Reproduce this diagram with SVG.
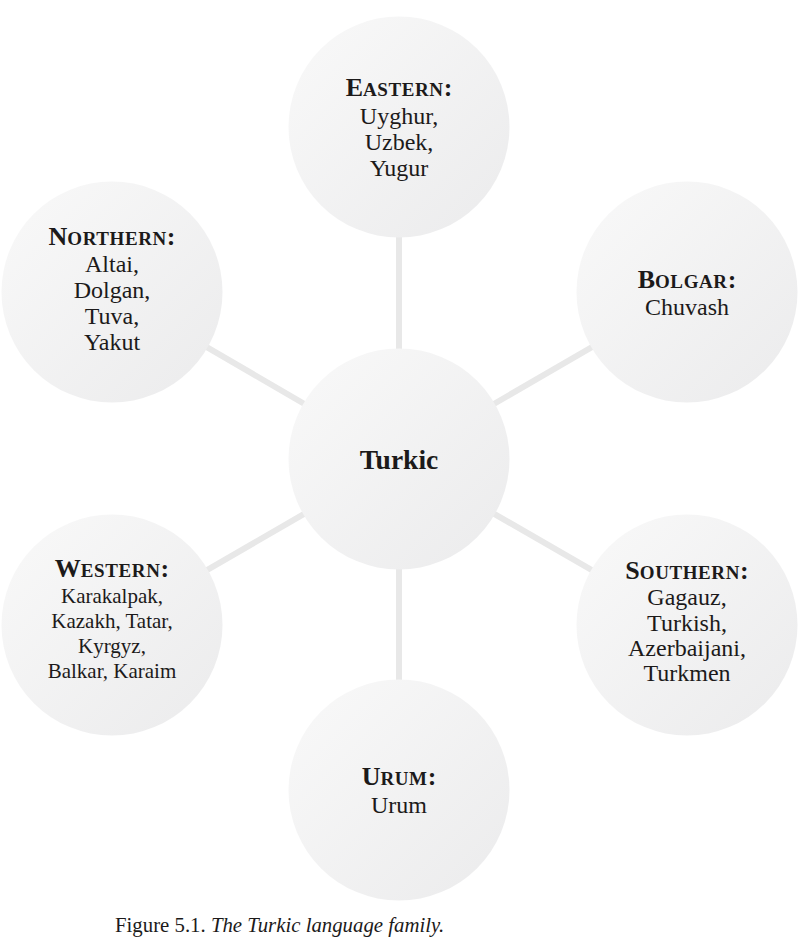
<svg xmlns="http://www.w3.org/2000/svg" width="806" height="946" viewBox="0 0 806 946">
<style>
text{font-family:"Liberation Serif","Times New Roman",serif;fill:#1c1a1a;text-anchor:middle}
.h{font-weight:bold;font-size:26px}
.sc{font-size:19px;letter-spacing:0.6px}
.b{font-size:24px}
.bw{font-size:21px}
.node circle{fill:url(#g)}
.conn line{stroke:#e8e8e8;stroke-width:6}
.cap{text-anchor:start;font-size:20.8px}
</style>
<defs>
<linearGradient id="g" x1="0" y1="0" x2="1" y2="1">
<stop offset="0" stop-color="#f9f9f9"/>
<stop offset="1" stop-color="#ebebec"/>
</linearGradient>
</defs>
<rect width="806" height="946" fill="#ffffff"/>
<g id="connectors" class="conn">
<line x1="399" y1="459" x2="399" y2="127"/>
<line x1="399" y1="459" x2="687" y2="292"/>
<line x1="399" y1="459" x2="687" y2="625"/>
<line x1="399" y1="459" x2="399" y2="790"/>
<line x1="399" y1="459" x2="112" y2="625"/>
<line x1="399" y1="459" x2="112" y2="292"/>
</g>
<g id="eastern" class="node">
<circle cx="399" cy="127" r="110.5"/>
<text class="h" x="399" y="96">E<tspan class="sc">ASTERN</tspan>:</text>
<text class="b" x="399" y="124">Uyghur,</text>
<text class="b" x="399" y="150">Uzbek,</text>
<text class="b" x="399" y="176">Yugur</text>
</g>
<g id="bolgar" class="node">
<circle cx="687" cy="292" r="110.5"/>
<text class="h" x="687" y="288">B<tspan class="sc">OLGAR</tspan>:</text>
<text class="b" x="687" y="315">Chuvash</text>
</g>
<g id="southern" class="node">
<circle cx="687" cy="625" r="110.5"/>
<text class="h" x="687" y="579">S<tspan class="sc">OUTHERN</tspan>:</text>
<text class="b" x="687" y="605">Gagauz,</text>
<text class="b" x="687" y="631">Turkish,</text>
<text class="b" x="687" y="656">Azerbaijani,</text>
<text class="b" x="687" y="681">Turkmen</text>
</g>
<g id="urum" class="node">
<circle cx="399" cy="790" r="110.5"/>
<text class="h" x="399" y="785">U<tspan class="sc">RUM</tspan>:</text>
<text class="b" x="399" y="813">Urum</text>
</g>
<g id="western" class="node">
<circle cx="112" cy="625" r="110.5"/>
<text class="h" x="112" y="577">W<tspan class="sc">ESTERN</tspan>:</text>
<text class="bw" x="112" y="603">Karakalpak,</text>
<text class="bw" x="112" y="628">Kazakh, Tatar,</text>
<text class="bw" x="112" y="653">Kyrgyz,</text>
<text class="bw" x="112" y="678">Balkar, Karaim</text>
</g>
<g id="northern" class="node">
<circle cx="112" cy="292" r="110.5"/>
<text class="h" x="112" y="245">N<tspan class="sc">ORTHERN</tspan>:</text>
<text class="b" x="112" y="272">Altai,</text>
<text class="b" x="112" y="298">Dolgan,</text>
<text class="b" x="112" y="324">Tuva,</text>
<text class="b" x="112" y="350">Yakut</text>
</g>
<g id="turkic" class="node">
<circle cx="399" cy="459" r="110.5"/>
<text x="399" y="469" style="font-weight:bold;font-size:27.5px">Turkic</text>
</g>
<text class="cap" x="115" y="932">Figure 5.1. <tspan font-style="italic">The Turkic language family.</tspan></text>
</svg>
